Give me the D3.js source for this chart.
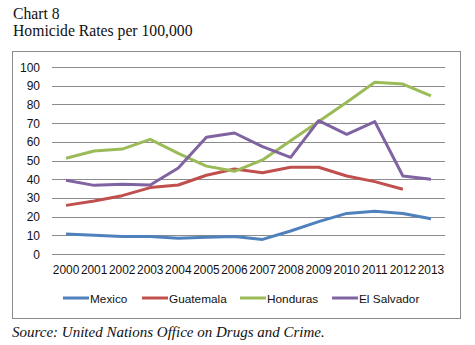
<!DOCTYPE html>
<html lang="en">
<head>
<meta charset="utf-8">
<title>Chart 8</title>
<script src="https://cdn.jsdelivr.net/npm/d3@7"></script>
<style>
  body { margin: 0; background: white; }
</style>
</head>
<body>
<script>
// years on the x axis
var years = ["2000","2001","2002","2003","2004","2005","2006","2007","2008","2009","2010","2011","2012","2013"];
var yTicks = [0,10,20,30,40,50,60,70,80,90,100];

// homicide rates per 100,000
var mexico     = [10.7, 10.0, 9.4, 9.4, 8.4, 8.9, 9.4, 7.8, 12.3, 17.3, 21.7, 22.8, 21.7, 18.9];
var guatemala  = [26.0, 28.3, 31.2, 35.5, 36.9, 42.1, 45.5, 43.5, 46.4, 46.4, 41.7, 38.7, 34.6, null];
var honduras   = [51.2, 55.1, 56.1, 61.3, 53.8, 47.0, 44.2, 50.3, 60.6, 70.8, 81.1, 91.8, 90.9, 84.5];
var elSalvador = [39.4, 36.7, 37.3, 36.9, 46.0, 62.4, 64.7, 57.4, 51.7, 71.3, 64.0, 70.8, 41.7, 40.0];

var seriesNames = ["Mexico", "Guatemala", "Honduras", "El Salvador"];
var seriesColors = ["#4f81bd", "#c0504d", "#9bbb59", "#8064a2"];
var seriesValues = [mexico, guatemala, honduras, elSalvador];

var w = 475, h = 345;

var svg = d3.select("body").append("svg")
    .attr("width", w)
    .attr("height", h);

svg.append("rect").attr("width", w).attr("height", h).attr("fill", "white");

// title
svg.append("text").attr("x", 13).attr("y", 19)
    .attr("font-family", "Liberation Serif, serif").attr("font-size", "15.7px")
    .attr("fill", "#111").text("Chart 8");
svg.append("text").attr("x", 13).attr("y", 36)
    .attr("font-family", "Liberation Serif, serif").attr("font-size", "15.7px")
    .attr("fill", "#111").text("Homicide Rates per 100,000");

// chart frame
svg.append("rect")
    .attr("x", 12.5).attr("y", 51.5)
    .attr("width", 448).attr("height", 267)
    .attr("fill", "none").attr("stroke", "#8c8c8c").attr("stroke-width", 1);

var xScale = d3.scaleBand().domain(years).range([52, 445]);
var yScale = d3.scaleLinear().domain([0, 100]).range([254, 67]);

// gridlines
svg.selectAll("line.grid")
    .data(yTicks)
    .enter()
    .append("line")
    .attr("class", "grid")
    .attr("x1", 52).attr("x2", 445)
    .attr("y1", function(d) { return Math.round(yScale(d)) + 0.5; })
    .attr("y2", function(d) { return Math.round(yScale(d)) + 0.5; })
    .attr("stroke", "#8c8c8c").attr("stroke-width", 1);

// y labels
svg.selectAll("text.ylab")
    .data(yTicks)
    .enter()
    .append("text")
    .attr("class", "ylab")
    .attr("x", 40)
    .attr("y", function(d) { return yScale(d) + 4.5; })
    .attr("text-anchor", "end")
    .attr("font-family", "Liberation Sans, sans-serif").attr("font-size", "12px")
    .attr("fill", "#111")
    .text(function(d) { return d; });

// x labels
svg.selectAll("text.xlab")
    .data(years)
    .enter()
    .append("text")
    .attr("class", "xlab")
    .attr("x", function(d) { return xScale(d) + xScale.bandwidth() / 2; })
    .attr("y", 274)
    .attr("text-anchor", "middle")
    .attr("font-family", "Liberation Sans, sans-serif").attr("font-size", "11.9px")
    .attr("fill", "#111")
    .text(function(d) { return d; });

var line = d3.line()
    .defined(function(d) { return d !== null; })
    .x(function(d, i) { return xScale(years[i]) + xScale.bandwidth() / 2; })
    .y(function(d) { return yScale(d); });

svg.selectAll("path.series")
    .data(seriesValues)
    .enter()
    .append("path")
    .attr("class", "series")
    .attr("d", line)
    .attr("fill", "none")
    .attr("stroke", function(d, i) { return seriesColors[i]; })
    .attr("stroke-width", 3)
    .attr("stroke-linejoin", "round");

// legend
var legendX = [63, 142, 240, 332];
var legend = svg.selectAll("g.legend")
    .data(seriesNames)
    .enter()
    .append("g")
    .attr("class", "legend")
    .attr("transform", function(d, i) { return "translate(" + legendX[i] + ",298)"; });

legend.append("line")
    .attr("x1", 0).attr("x2", 26)
    .attr("y1", 0).attr("y2", 0)
    .attr("stroke", function(d, i) { return seriesColors[i]; })
    .attr("stroke-width", 3);

legend.append("text")
    .attr("x", 27).attr("y", 4.5)
    .attr("font-family", "Liberation Sans, sans-serif").attr("font-size", "11.8px")
    .attr("fill", "#111")
    .text(function(d) { return d; });

// source
svg.append("text").attr("x", 12).attr("y", 337)
    .attr("font-family", "Liberation Serif, serif").attr("font-size", "15px")
    .attr("font-style", "italic")
    .attr("fill", "#111").text("Source: United Nations Office on Drugs and Crime.");
</script>
</body>
</html>
